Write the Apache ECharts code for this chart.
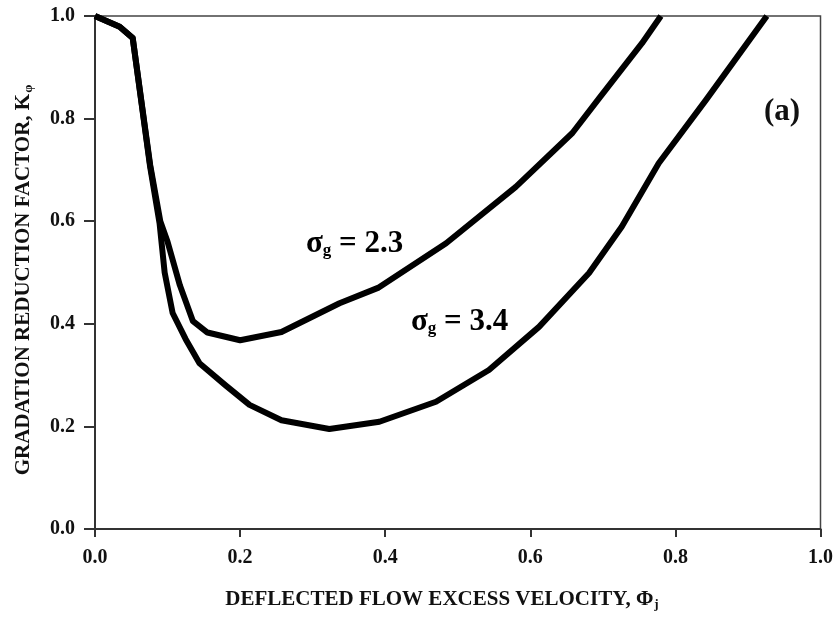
<!DOCTYPE html>
<html>
<head>
<meta charset="utf-8">
<script src="https://cdn.jsdelivr.net/npm/echarts@6/dist/echarts.min.js"></script>
<style>html,body{margin:0;padding:0;background:#fff}#c{width:836px;height:620px}</style>
</head>
<body>
<div id="c"></div>
<script>
// Data
var xTicks = [0.0, 0.2, 0.4, 0.6, 0.8, 1.0];
var yTicks = [0.0, 0.2, 0.4, 0.6, 0.8, 1.0];
var phi23 = [0, 0.034, 0.052, 0.076, 0.09, 0.1, 0.117, 0.135, 0.155, 0.2, 0.257, 0.337, 0.39, 0.484, 0.58, 0.658, 0.695, 0.754, 0.78];
var k23   = [1.0, 0.979, 0.957, 0.71, 0.6, 0.56, 0.475, 0.405, 0.383, 0.368, 0.384, 0.44, 0.47, 0.557, 0.667, 0.772, 0.84, 0.947, 1.0];
var phi34 = [0, 0.034, 0.052, 0.076, 0.089, 0.096, 0.107, 0.125, 0.144, 0.18, 0.213, 0.257, 0.323, 0.392, 0.47, 0.543, 0.612, 0.681, 0.726, 0.777, 0.842, 0.926];
var k34   = [1.0, 0.979, 0.957, 0.706, 0.596, 0.5, 0.421, 0.37, 0.323, 0.28, 0.242, 0.212, 0.195, 0.209, 0.248, 0.31, 0.394, 0.499, 0.589, 0.713, 0.836, 1.0];
var seriesNames = ['σg = 2.3', 'σg = 3.4'];

function zip(a, b) { return a.map(function (v, i) { return [v, b[i]]; }); }

var FONT = '"Liberation Serif", "Times New Roman", serif';
var chart = echarts.init(document.getElementById('c'), null, { renderer: 'canvas' });

var subStyle = { fontSize: 13, fontWeight: 'bold', fontFamily: FONT, color: '#111', padding: [10, 0, 0, 1] };
var sgStyle = { fontSize: 17, fontWeight: 'bold', fontFamily: FONT, color: '#000', padding: [14, 0, 0, 0] };

chart.setOption({
  animation: false,
  backgroundColor: '#fff',
  grid: { left: 95, right: 14, top: 16, bottom: 91, show: true, borderColor: '#444', borderWidth: 1.5, backgroundColor: 'transparent' },
  xAxis: {
    type: 'value', min: 0, max: 1, interval: 0.2,
    axisLine: { show: true, onZero: false, lineStyle: { color: '#333', width: 2 } },
    axisTick: { show: true, inside: false, length: 8, lineStyle: { color: '#333', width: 2 } },
    splitLine: { show: false },
    axisLabel: { margin: 19, fontFamily: FONT, fontWeight: 'bold', fontSize: 20, color: '#111',
      formatter: function (v) { return v.toFixed(1); } }
  },
  yAxis: {
    type: 'value', min: 0, max: 1, interval: 0.2,
    axisLine: { show: true, onZero: false, lineStyle: { color: '#333', width: 2 } },
    axisTick: { show: true, inside: false, length: 11, lineStyle: { color: '#333', width: 2 } },
    splitLine: { show: false },
    axisLabel: { margin: 20, fontFamily: FONT, fontWeight: 'bold', fontSize: 20, color: '#111',
      formatter: function (v) { return v.toFixed(1); } }
  },
  series: [
    { name: seriesNames[0], type: 'line', data: zip(phi23, k23), showSymbol: false, symbol: 'none',
      lineStyle: { color: '#000', width: 6, join: 'round', cap: 'butt' }, clip: false },
    { name: seriesNames[1], type: 'line', data: zip(phi34, k34), showSymbol: false, symbol: 'none',
      lineStyle: { color: '#000', width: 6, join: 'round', cap: 'butt' }, clip: false }
  ],
  graphic: [
    { type: 'text', x: 442, y: 600,
      style: { text: 'DEFLECTED FLOW EXCESS VELOCITY, Φ{s|j}', align: 'center', verticalAlign: 'middle',
        font: 'bold 21px ' + FONT, fill: '#111',
        rich: { s: subStyle } } },
    { type: 'text', x: 24, y: 280, rotation: Math.PI / 2,
      style: { text: 'GRADATION REDUCTION FACTOR, K{s|φ}', align: 'center', verticalAlign: 'middle',
        font: 'bold 21px ' + FONT, fill: '#111',
        rich: { s: subStyle } } },
    { type: 'text', x: 306, y: 244,
      style: { text: 'σ{sg|g} = 2.3', align: 'left', verticalAlign: 'middle',
        font: 'bold 31px ' + FONT, fill: '#000',
        rich: { sg: sgStyle } } },
    { type: 'text', x: 411, y: 322,
      style: { text: 'σ{sg|g} = 3.4', align: 'left', verticalAlign: 'middle',
        font: 'bold 31px ' + FONT, fill: '#000',
        rich: { sg: sgStyle } } },
    { type: 'text', x: 782, y: 112,
      style: { text: '(a)', align: 'center', verticalAlign: 'middle',
        font: 'bold 31px ' + FONT, fill: '#111' } }
  ]
});
</script>
</body>
</html>
